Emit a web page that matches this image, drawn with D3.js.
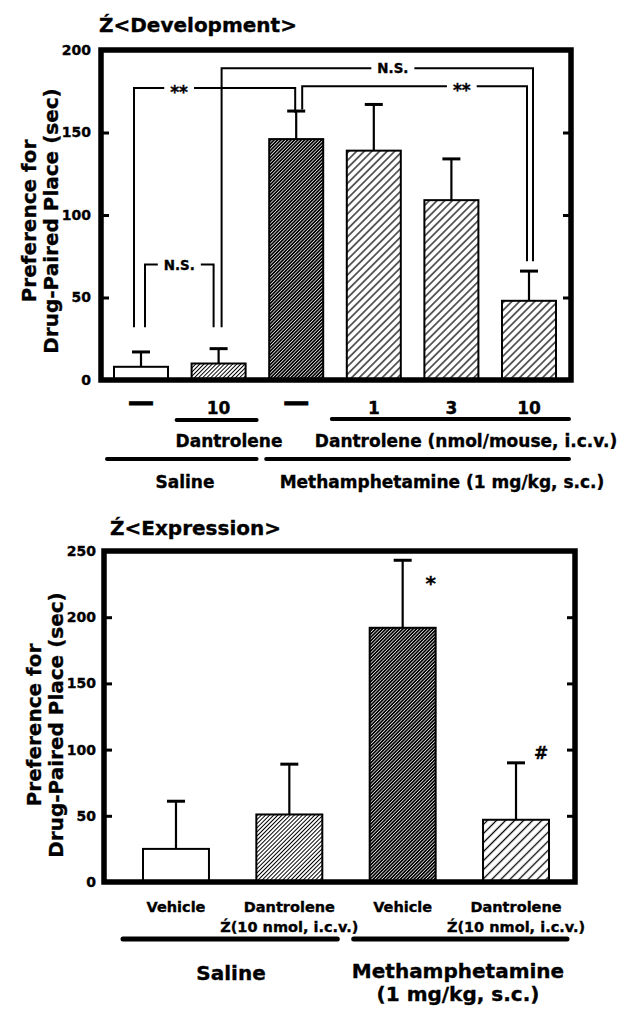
<!DOCTYPE html>
<html>
<head>
<meta charset="utf-8">
<title>Dantrolene CPP</title>
<script src="https://d3js.org/d3.v7.min.js"></script>
<style>
  body { margin: 0; background: #fff; }
  svg { display: block; }
  text { font-family: "DejaVu Sans", sans-serif; font-weight: bold; fill: #000; stroke: #000; stroke-width: 0.35px; }
</style>
</head>
<body>
<svg id="chart" width="635" height="1010"></svg>
<script>
// ---- Development panel data ----
const devGroups = ['sal-veh', 'sal-dan10', 'meth-veh', 'meth-dan1', 'meth-dan3', 'meth-dan10'];
const devTicks = ['—', '10', '—', '1', '3', '10'];
const devMean = [8, 10, 146, 139, 109, 48];
const devSem = [9, 9, 17, 28, 25, 18];
const devFill = ['white', 'fine', 'dark', 'coarse', 'coarse', 'coarse'];
const devYTicks = [0, 50, 100, 150, 200];
const devComparisons = [
  { a: 0, b: 2, label: '**' },
  { a: 2, b: 5, label: '**' },
  { a: 1, b: 5, label: 'N.S.' },
  { a: 0, b: 1, label: 'N.S.' }
];

// ---- Expression panel data ----
const expGroups = ['sal-veh', 'sal-dan', 'meth-veh', 'meth-dan'];
const expTicks = [['Vehicle'], ['Dantrolene', 'Ź(10 nmol, i.c.v.)'], ['Vehicle'], ['Dantrolene', 'Ź(10 nmol, i.c.v.)']];
const expMean = [25, 51, 192, 47];
const expSem = [36, 38, 51, 43];
const expFill = ['white', 'fine', 'dark', 'coarse2'];
const expMarks = ['', '', '*', '#'];
const expYTicks = [0, 50, 100, 150, 200, 250];

const svg = d3.select('#chart');
svg.append('rect').attr('width', 635).attr('height', 1010).attr('fill', '#fff');
const defs = svg.append('defs');

// diagonal hatch patterns
function hatch(id, gap, lineW, bg, fg) {
  const p = defs.append('pattern')
    .attr('id', id)
    .attr('patternUnits', 'userSpaceOnUse')
    .attr('width', gap)
    .attr('height', gap)
    .attr('patternTransform', 'rotate(45)');
  p.append('rect').attr('width', gap).attr('height', gap).attr('fill', bg);
  p.append('line')
    .attr('x1', gap / 2).attr('x2', gap / 2)
    .attr('y1', -1).attr('y2', gap + 1)
    .attr('stroke', fg).attr('stroke-width', lineW);
}
hatch('fine', 2.9, 1.0, '#fff', '#000');
hatch('dark', 2.4, 0.7, '#000', '#fff');
hatch('coarse', 5.4, 1.2, '#fff', '#000');
hatch('coarse2', 6.4, 1.3, '#fff', '#000');

function fillOf(f) {
  return f === 'white' ? '#fff' : `url(#${f})`;
}

function drawPanel(p) {
  const g = svg.append('g');
  const x = p.x, y = p.y;

  // y axis (inward ticks, labels outside)
  g.append('g')
    .attr('transform', `translate(${p.left},0)`)
    .call(d3.axisLeft(y).tickValues(p.yTicks).tickSizeInner(-8).tickSizeOuter(0).tickPadding(p.tickPad))
    .call(a => a.select('.domain').remove())
    .call(a => a.selectAll('line').attr('stroke-width', 3))
    .call(a => a.selectAll('text').attr('font-size', 14));

  g.append('g')
    .attr('transform', `translate(${p.right},0)`)
    .call(d3.axisRight(y).tickValues(p.yTicks.slice(1, -1)).tickSizeInner(-8).tickSizeOuter(0).tickFormat(''))
    .call(a => a.select('.domain').remove())
    .call(a => a.selectAll('line').attr('stroke-width', 3));

  // error bars
  const cx = i => x(p.groups[i]) + x.bandwidth() / 2;
  const eb = g.append('g').attr('stroke', '#000');
  p.groups.forEach((d, i) => {
    const top = y(p.mean[i] + p.sem[i]);
    eb.append('line').attr('x1', cx(i)).attr('x2', cx(i))
      .attr('y1', y(p.mean[i])).attr('y2', top).attr('stroke-width', 2.2);
    eb.append('line').attr('x1', cx(i) - 9).attr('x2', cx(i) + 9)
      .attr('y1', top).attr('y2', top).attr('stroke-width', 3);
  });

  // bars
  g.append('g').selectAll('rect')
    .data(p.groups)
    .join('rect')
    .attr('x', d => x(d))
    .attr('y', (d, i) => y(p.mean[i]))
    .attr('width', x.bandwidth())
    .attr('height', (d, i) => y(0) - y(p.mean[i]))
    .attr('fill', (d, i) => fillOf(p.fills[i]))
    .attr('stroke', '#000')
    .attr('stroke-width', 2);

  // frame
  g.append('rect')
    .attr('x', p.left).attr('y', y(y.domain()[1]))
    .attr('width', p.right - p.left)
    .attr('height', y(0) - y(y.domain()[1]))
    .attr('fill', 'none')
    .attr('stroke', '#000')
    .attr('stroke-width', 5.5);

  // title
  g.append('text')
    .attr('x', p.titleX).attr('y', p.titleY)
    .attr('font-size', 20)
    .text(p.title);

  // y label
  const yl = g.append('text')
    .attr('transform', `translate(${p.ylabelX},${p.ylabelY}) rotate(-90)`)
    .attr('text-anchor', 'middle')
    .attr('font-size', 20);
  yl.append('tspan').attr('x', 0).attr('dy', 0).text('Preference for');
  yl.append('tspan').attr('x', 0).attr('dy', 22).text('Drug-Paired Place (sec)');

  return { g, cx };
}

// ---------- top panel ----------
const devX = d3.scaleBand().domain(devGroups).range([114, 556]).paddingInner(0.304);
const devY = d3.scaleLinear().domain([0, 200]).range([380, 50]);
const dev = drawPanel({
  x: devX, y: devY, groups: devGroups, mean: devMean, sem: devSem, fills: devFill,
  yTicks: devYTicks, left: 101, right: 571, tickPad: 10,
  title: 'Ź<Development>', titleX: 99, titleY: 32,
  ylabelX: 36, ylabelY: 221
});

// x tick labels
dev.g.append('g')
  .attr('transform', `translate(0,${devY(0)})`)
  .call(d3.axisBottom(devX).tickSize(0).tickPadding(22).tickFormat((d, i) => devTicks[i]))
  .call(a => a.select('.domain').remove())
  .call(a => a.selectAll('text').attr('font-size', 17))
  .call(a => a.selectAll('text').filter(function () { return this.textContent === '—'; })
    .attr('font-size', 26).attr('dy', 0).attr('y', 31).style('stroke-width', '0.9px'));

// bracket layout: leg offsets (px from bar centre), leg ends and level (data units), label position
const bracketLayout = [
  { aDx: -7, aEnd: 32, bDx: -1, bEnd: 162, level: 177, at: 0.28, size: 17, shift: 10 },
  { aDx: 6, aEnd: 164, bDx: -2, bEnd: 72, level: 178, at: 0.71, size: 17, shift: 10 },
  { aDx: 3, aEnd: 32, bDx: 4, bEnd: 72, level: 189, at: 0.55, size: 13.4, shift: 5 },
  { aDx: 4, aEnd: 32, bDx: -5, bEnd: 32, level: 70, at: 0.5, size: 13.4, shift: 5 }
];
const br = dev.g.append('g');
devComparisons.forEach((c, k) => {
  const L = bracketLayout[k];
  const xa = dev.cx(c.a) + L.aDx, xb = dev.cx(c.b) + L.bDx, yl = devY(L.level);
  const t = br.append('text')
    .attr('x', xa + (xb - xa) * L.at)
    .attr('y', yl + L.shift)
    .attr('text-anchor', 'middle')
    .attr('font-size', L.size)
    .text(c.label);
  const half = t.node().getComputedTextLength() / 2 + 6;
  const tx = xa + (xb - xa) * L.at;
  const path = d3.path();
  path.moveTo(xa, devY(L.aEnd)); path.lineTo(xa, yl); path.lineTo(tx - half, yl);
  path.moveTo(tx + half, yl); path.lineTo(xb, yl); path.lineTo(xb, devY(L.bEnd));
  br.append('path').attr('d', path.toString())
    .attr('fill', 'none').attr('stroke', '#000').attr('stroke-width', 2);
});

// group underlines and labels
function underline(g, x0, x1, yy, w) {
  g.append('line').attr('x1', x0).attr('x2', x1).attr('y1', yy).attr('y2', yy)
    .attr('stroke', '#000').attr('stroke-width', w).attr('stroke-linecap', 'round');
}
const bl = i => devX(devGroups[i]);
const brr = i => devX(devGroups[i]) + devX.bandwidth();
underline(dev.g, bl(1) - 15, brr(1) + 11, 420, 4);
underline(dev.g, bl(3) - 15, brr(5) + 13, 419, 4);
underline(dev.g, bl(0) - 7, brr(1) + 11, 459, 4);
underline(dev.g, bl(2) - 3, brr(5) + 13, 459, 4);
dev.g.append('text').attr('x', 229).attr('y', 447).attr('text-anchor', 'middle').attr('font-size', 17).text('Dantrolene');
dev.g.append('text').attr('x', 466).attr('y', 447).attr('text-anchor', 'middle').attr('font-size', 17).text('Dantrolene (nmol/mouse, i.c.v.)');
dev.g.append('text').attr('x', 185).attr('y', 488).attr('text-anchor', 'middle').attr('font-size', 17).text('Saline');
dev.g.append('text').attr('x', 442).attr('y', 488).attr('text-anchor', 'middle').attr('font-size', 17).text('Methamphetamine (1 mg/kg, s.c.)');

// ---------- bottom panel ----------
const expX = d3.scaleBand().domain(expGroups).range([143, 549]).paddingInner(0.418);
const expY = d3.scaleLinear().domain([0, 250]).range([882, 551]);
const exp = drawPanel({
  x: expX, y: expY, groups: expGroups, mean: expMean, sem: expSem, fills: expFill,
  yTicks: expYTicks, left: 104, right: 575, tickPad: 8,
  title: 'Ź<Expression>', titleX: 110, titleY: 535,
  ylabelX: 41, ylabelY: 725
});

exp.g.append('g')
  .attr('transform', `translate(0,${expY(0)})`)
  .call(d3.axisBottom(expX).tickSize(0).tickFormat(''))
  .call(a => a.select('.domain').remove())
  .call(a => a.selectAll('.tick').each(function (d, i) {
    const t = d3.select(this).append('text').attr('font-size', 14.5).attr('text-anchor', 'middle');
    expTicks[i].forEach((s, j) => t.append('tspan').attr('x', 0).attr('y', 30 + j * 20).text(s));
  }));

// significance marks
exp.g.append('g').selectAll('text')
  .data(expGroups)
  .join('text')
  .attr('x', (d, i) => exp.cx(i) + (i === 2 ? 28 : 25))
  .attr('y', (d, i) => expY(expMean[i] + expSem[i]) + (i === 2 ? 30 : -4))
  .attr('text-anchor', 'middle')
  .attr('font-size', (d, i) => i === 2 ? 20 : 17)
  .text((d, i) => expMarks[i]);

const el = i => expX(expGroups[i]);
const er = i => expX(expGroups[i]) + expX.bandwidth();
underline(exp.g, el(0) - 20, er(1) + 15, 939, 5);
underline(exp.g, el(2) - 16, er(3) + 18, 939, 5);
exp.g.append('text').attr('x', 231).attr('y', 980).attr('text-anchor', 'middle').attr('font-size', 20).text('Saline');
const mt = exp.g.append('text').attr('text-anchor', 'middle').attr('font-size', 20);
mt.append('tspan').attr('x', 458).attr('y', 978).text('Methamphetamine');
mt.append('tspan').attr('x', 458).attr('y', 1001).text('(1 mg/kg, s.c.)');
</script>
</body>
</html>
